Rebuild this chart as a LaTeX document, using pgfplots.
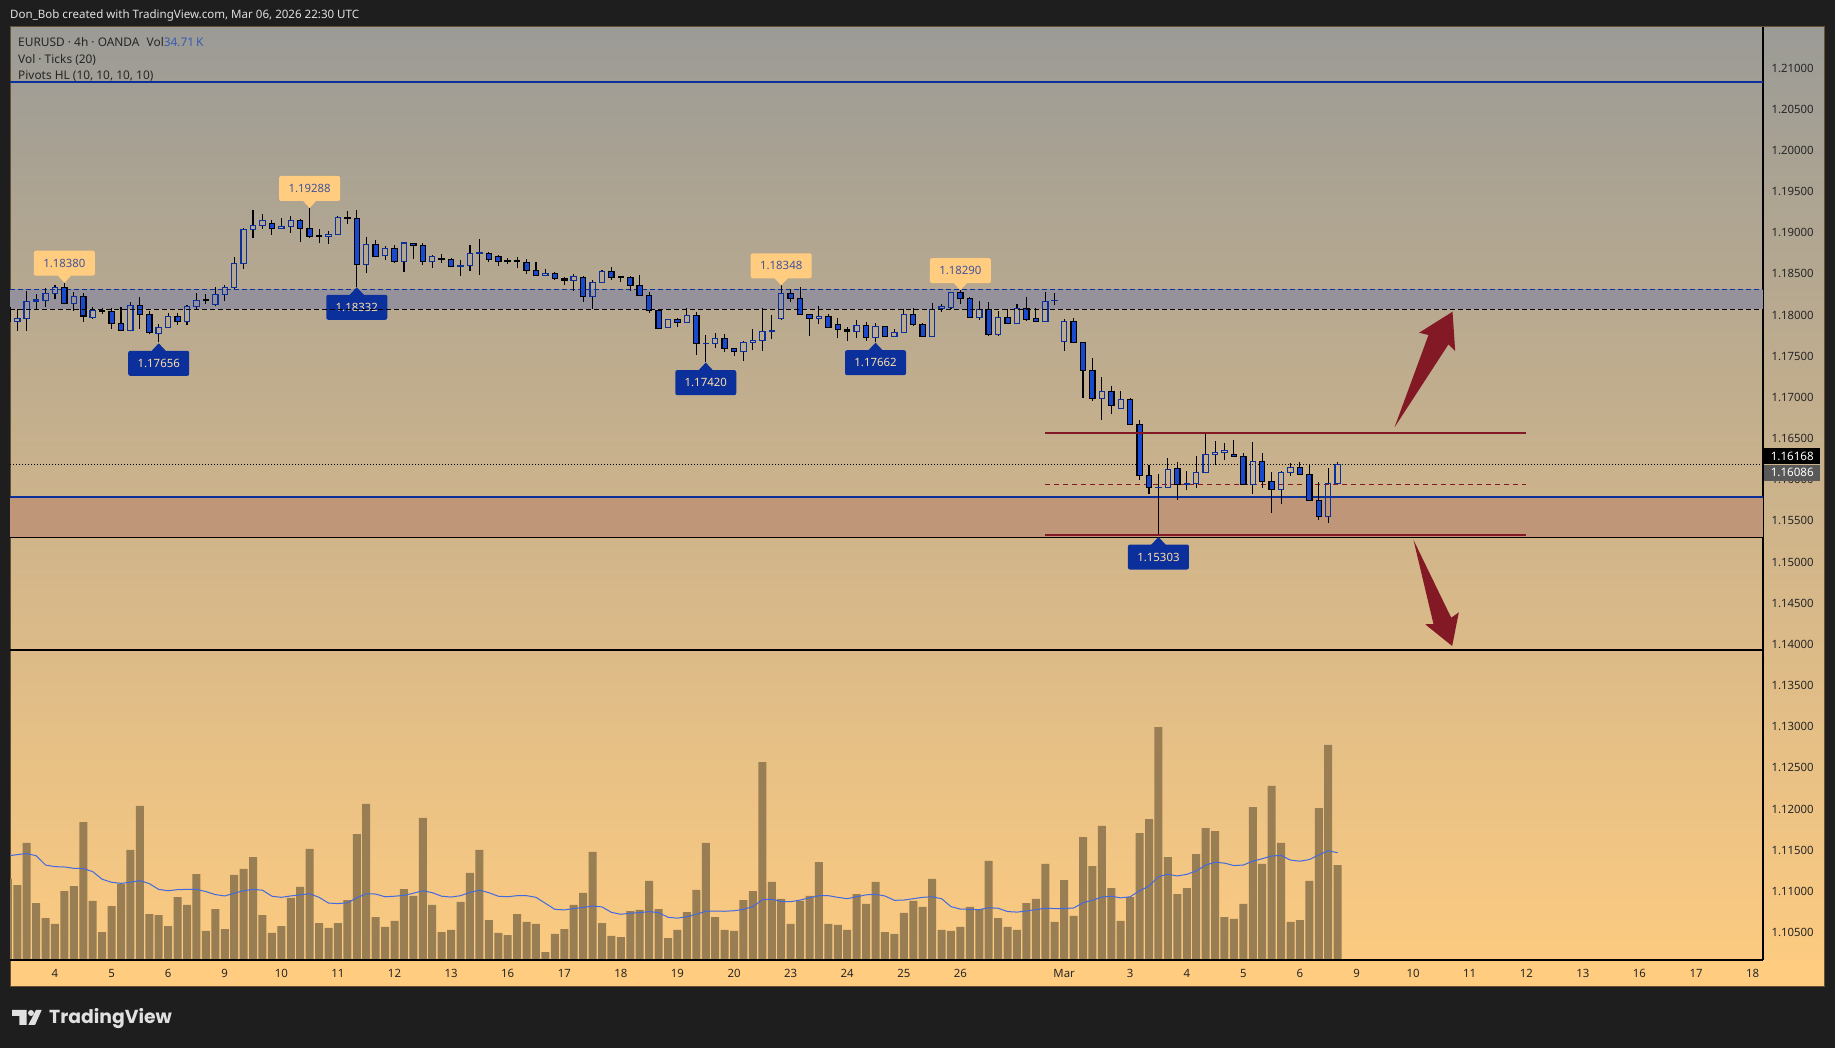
\documentclass[border=0pt]{standalone}
\usepackage{fontspec}
\setmainfont{Noto Sans}
\newfontfamily\logofont{Poppins}
\usepackage{pgfplots}
\usepackage{pgfplotstable}
\pgfplotsset{compat=1.18}
\definecolor{tvdark}{RGB}{30,30,30}
\definecolor{tvorange}{RGB}{255,204,128}
\definecolor{tvtop}{RGB}{155,155,150}
\definecolor{tvnavy}{RGB}{12,48,155}
\definecolor{tvblue}{RGB}{24,73,207}
\definecolor{tvred}{RGB}{130,25,36}
\definecolor{volbar}{RGB}{153,126,84}
\definecolor{maline}{RGB}{65,105,225}
\definecolor{bandtop}{RGB}{150,146,155}
\definecolor{bandlow}{RGB}{191,151,120}
\definecolor{piv}{RGB}{66,84,152}
\definecolor{pivtxt}{RGB}{255,222,165}

% candles: k open high low close
\pgfplotstableread{
k open high low close
0 1.17908 1.18057 1.17798 1.17948
1 1.17948 1.18280 1.17798 1.18155
2 1.18155 1.18244 1.18057 1.18171
3 1.18167 1.18312 1.18082 1.18252
4 1.18252 1.18353 1.18183 1.18320
6 1.18130 1.18264 1.18037 1.18215
8 1.17960 1.18082 1.17944 1.18041
12 1.17802 1.18142 1.17802 1.18106
15 1.17766 1.17875 1.17656 1.17839
16 1.17839 1.18017 1.17839 1.17972
18 1.17912 1.18106 1.17863 1.18094
19 1.18094 1.18256 1.18057 1.18167
21 1.18118 1.18324 1.18094 1.18240
22 1.18240 1.18353 1.18163 1.18320
23 1.18320 1.18693 1.18316 1.18616
24 1.18616 1.19041 1.18547 1.19029
25 1.19029 1.19264 1.18924 1.19077
26 1.19077 1.19215 1.19037 1.19138
28 1.19041 1.19167 1.19037 1.19065
29 1.19065 1.19191 1.18988 1.19138
33 1.18944 1.19009 1.18851 1.18968
34 1.18968 1.19191 1.18968 1.19175
37 1.18604 1.18932 1.18503 1.18847
39 1.18713 1.18826 1.18656 1.18798
41 1.18640 1.18875 1.18511 1.18863
44 1.18636 1.18713 1.18563 1.18701
47 1.18576 1.18656 1.18466 1.18592
48 1.18588 1.18839 1.18527 1.18737
49 1.18737 1.18907 1.18478 1.18741
56 1.18470 1.18547 1.18466 1.18491
59 1.18406 1.18486 1.18284 1.18458
61 1.18211 1.18414 1.18057 1.18385
62 1.18385 1.18531 1.18377 1.18519
69 1.17839 1.17932 1.17835 1.17932
71 1.17899 1.18074 1.17895 1.17985
73 1.17640 1.17746 1.17420 1.17645
74 1.17645 1.17766 1.17592 1.17701
77 1.17547 1.17669 1.17430 1.17657
78 1.17657 1.17819 1.17564 1.17681
79 1.17681 1.18074 1.17551 1.17790
80 1.17786 1.17989 1.17693 1.17802
81 1.17944 1.18348 1.17932 1.18252
85 1.17944 1.18097 1.17879 1.17972
89 1.17790 1.17927 1.17713 1.17863
91 1.17717 1.17887 1.17662 1.17851
93 1.17729 1.17818 1.17725 1.17778
94 1.17778 1.18057 1.17774 1.17996
97 1.17725 1.18130 1.17725 1.18057
98 1.18069 1.18122 1.18029 1.18093
99 1.18077 1.18263 1.18069 1.18263
102 1.17960 1.18158 1.17932 1.18057
104 1.17749 1.18041 1.17733 1.17960
106 1.17887 1.18118 1.17879 1.18069
109 1.17911 1.18268 1.17907 1.18154
110 1.18162 1.18255 1.18110 1.18166
111 1.17664 1.17936 1.17555 1.17911
115 1.16976 1.17235 1.16717 1.17061
117 1.16855 1.17065 1.16855 1.16964
121 1.15891 1.16056 1.15303 1.15895
122 1.15895 1.16248 1.15891 1.16114
124 1.15928 1.16094 1.15863 1.15944
125 1.15944 1.16276 1.15891 1.16078
126 1.16078 1.16543 1.16074 1.16296
127 1.16296 1.16454 1.16163 1.16320
128 1.16320 1.16434 1.16227 1.16345
131 1.15932 1.16446 1.15818 1.16211
134 1.15871 1.16090 1.15697 1.16078
135 1.16078 1.16187 1.16037 1.16138
139 1.15539 1.16126 1.15466 1.15944
140 1.15944 1.16199 1.15932 1.16168
}\upT
\pgfplotstableread{
k open high low close
-1 1.18082 1.18090 1.17900 1.17908
5 1.18324 1.18380 1.18118 1.18130
7 1.18215 1.18252 1.17908 1.17976
9 1.18041 1.18070 1.17997 1.18029
10 1.18033 1.18070 1.17819 1.17887
11 1.17887 1.18082 1.17802 1.17802
13 1.18106 1.18207 1.17819 1.17997
14 1.17997 1.18041 1.17754 1.17778
17 1.17972 1.18017 1.17863 1.17912
20 1.18179 1.18240 1.18122 1.18171
27 1.19098 1.19138 1.18960 1.19041
30 1.19134 1.19150 1.18875 1.19041
31 1.19041 1.19288 1.18928 1.18944
32 1.18948 1.19029 1.18859 1.18940
35 1.19175 1.19252 1.19098 1.19167
36 1.19162 1.19264 1.18332 1.18604
38 1.18843 1.18895 1.18689 1.18701
40 1.18798 1.18839 1.18624 1.18640
42 1.18859 1.18867 1.18669 1.18831
43 1.18835 1.18859 1.18600 1.18640
45 1.18669 1.18725 1.18620 1.18661
46 1.18665 1.18685 1.18576 1.18580
50 1.18737 1.18750 1.18636 1.18665
51 1.18701 1.18717 1.18588 1.18636
52 1.18648 1.18685 1.18608 1.18640
53 1.18644 1.18693 1.18563 1.18636
54 1.18628 1.18669 1.18491 1.18531
55 1.18531 1.18632 1.18466 1.18466
57 1.18495 1.18507 1.18410 1.18434
58 1.18434 1.18454 1.18357 1.18414
60 1.18446 1.18466 1.18150 1.18215
63 1.18519 1.18571 1.18418 1.18446
64 1.18458 1.18462 1.18389 1.18450
65 1.18442 1.18458 1.18284 1.18349
66 1.18349 1.18474 1.18223 1.18227
67 1.18227 1.18268 1.18017 1.18045
68 1.18045 1.18057 1.17823 1.17827
70 1.17932 1.17952 1.17847 1.17899
72 1.17985 1.18025 1.17503 1.17645
75 1.17701 1.17754 1.17543 1.17584
76 1.17580 1.17588 1.17495 1.17547
82 1.18252 1.18300 1.18146 1.18191
83 1.18187 1.18324 1.17992 1.17996
84 1.17996 1.18004 1.17733 1.17944
86 1.17972 1.17996 1.17830 1.17838
87 1.17875 1.17948 1.17713 1.17814
88 1.17806 1.17838 1.17672 1.17794
90 1.17863 1.17903 1.17676 1.17717
92 1.17847 1.17855 1.17725 1.17729
95 1.17996 1.18069 1.17855 1.17875
96 1.17875 1.17887 1.17721 1.17729
100 1.18263 1.18290 1.18122 1.18191
101 1.18187 1.18211 1.17956 1.17960
103 1.18057 1.18142 1.17741 1.17749
105 1.17960 1.18057 1.17887 1.17887
107 1.18069 1.18207 1.17919 1.17936
108 1.17944 1.18069 1.17903 1.17911
112 1.17911 1.17948 1.17652 1.17656
113 1.17656 1.17656 1.16984 1.17316
114 1.17316 1.17466 1.16948 1.16976
116 1.17061 1.17126 1.16790 1.16891
118 1.16964 1.16976 1.16660 1.16660
119 1.16660 1.16713 1.15984 1.16041
120 1.16041 1.16167 1.15814 1.15895
123 1.16126 1.16199 1.15746 1.15932
129 1.16296 1.16470 1.16268 1.16272
130 1.16272 1.16308 1.15928 1.15932
132 1.16211 1.16308 1.15891 1.15968
133 1.15968 1.16078 1.15588 1.15871
136 1.16138 1.16203 1.16049 1.16053
137 1.16053 1.16175 1.15725 1.15738
138 1.15738 1.15956 1.15503 1.15543
}\dnT
% volume (thousand ticks) and its 20-bar average
\pgfplotstableread{
k vol ma
-1 29.6 38.0
0 27.4 38.5
1 42.8 38.9
2 20.8 38.1
3 15.3 34.7
4 13.2 34.1
5 25.2 34.0
6 27.0 33.5
7 50.4 33.4
8 21.6 32.3
9 10.2 29.5
10 19.7 28.4
11 27.8 28.0
12 40.2 28.4
13 56.3 29.0
14 16.8 27.9
15 16.4 25.8
16 12.4 25.3
17 23.0 25.7
18 20.1 25.8
19 31.4 25.8
20 10.6 25.0
21 18.6 23.9
22 11.3 23.4
23 31.1 24.4
24 33.3 25.3
25 37.6 25.8
26 16.4 25.5
27 9.9 23.3
28 12.4 22.9
29 22.7 23.4
30 26.7 23.8
31 40.6 24.2
32 13.5 22.9
33 11.7 20.8
34 13.5 20.6
35 21.9 20.9
36 46.0 22.7
37 57.0 24.2
38 15.7 24.1
39 12.1 23.1
40 14.3 23.3
41 25.9 23.6
42 23.4 24.4
43 51.9 25.3
44 20.1 24.6
45 10.2 23.3
46 11.0 23.0
47 21.2 23.5
48 31.8 24.7
49 40.2 25.5
50 14.6 24.6
51 9.9 23.3
52 9.1 23.1
53 16.8 23.5
54 13.9 23.5
55 13.2 22.9
56 2.9 20.7
57 9.5 18.5
58 11.3 18.3
59 20.1 18.8
60 24.5 19.2
61 39.5 19.7
62 13.5 19.4
63 8.8 17.4
64 8.4 16.7
65 17.9 17.1
66 18.3 17.3
67 28.9 17.7
68 18.6 17.3
69 8.0 15.6
70 11.0 15.3
71 17.5 15.8
72 25.6 16.7
73 42.8 17.8
74 15.7 17.9
75 11.0 17.8
76 10.6 18.0
77 21.9 18.5
78 25.2 19.5
79 72.3 22.0
80 28.5 22.2
81 22.3 21.4
82 13.2 21.3
83 21.6 21.9
84 23.4 22.7
85 35.8 23.5
86 13.2 23.5
87 12.8 22.9
88 11.0 22.4
89 24.1 23.1
90 20.5 23.8
91 28.5 24.0
92 10.2 23.4
93 9.5 21.8
94 17.2 21.9
95 21.6 22.4
96 19.4 22.9
97 29.6 23.1
98 11.0 22.4
99 10.6 19.5
100 12.1 18.6
101 19.4 18.5
102 18.6 18.4
103 36.2 19.1
104 15.3 18.9
105 12.1 17.7
106 11.0 17.5
107 20.8 17.9
108 22.3 18.4
109 35.1 18.9
110 13.9 18.8
111 29.2 18.8
112 16.1 19.0
113 44.9 20.9
114 34.3 21.8
115 49.0 23.0
116 26.3 23.3
117 14.3 22.7
118 23.0 23.1
119 46.4 25.3
120 51.5 27.0
121 85.1 30.5
122 37.6 31.3
123 24.1 30.7
124 26.3 31.3
125 38.7 32.5
126 48.2 34.7
127 47.1 35.7
128 15.7 35.4
129 15.0 34.5
130 20.5 34.7
131 55.9 36.1
132 35.1 37.0
133 63.6 38.0
134 42.8 38.2
135 13.9 36.5
136 14.6 36.1
137 28.9 36.7
138 55.5 38.4
139 78.6 39.9
140 34.7 39.2
}\volT

% one candle per row: body as a closed rectangle, wicks as two segments
\newcommand\candles[4]{%
  \pgfplotstablegetrowsof{#1}%
  \pgfmathtruncatemacro\nrows{\pgfplotsretval-1}%
  \pgfplotsforeachungrouped \i in {0,...,\nrows}{%
    \pgfplotstablegetelem{\i}{k}\of{#1}\let\vk\pgfplotsretval
    \pgfplotstablegetelem{\i}{high}\of{#1}\let\vh\pgfplotsretval
    \pgfplotstablegetelem{\i}{low}\of{#1}\let\vl\pgfplotsretval
    \pgfplotstablegetelem{\i}{#3}\of{#1}\let\vlo\pgfplotsretval
    \pgfplotstablegetelem{\i}{#4}\of{#1}\let\vhi\pgfplotsretval
    \pgfmathsetmacro\xa{\vk-0.28}%
    \pgfmathsetmacro\xb{\vk+0.28}%
    \edef\tmp{\noexpand\addplot[black,line width=1.1pt] coordinates {(\vk,\vl)(\vk,\vlo)};
      \noexpand\addplot[black,line width=1.1pt] coordinates {(\vk,\vhi)(\vk,\vh)};
      \noexpand\addplot[#2,line width=1.2pt] coordinates {(\xa,\vlo)(\xb,\vlo)(\xb,\vhi)(\xa,\vhi)} --cycle;}\tmp
  }}
\newcommand\pivH[3]{%
  \fill[tvorange] (axis cs:#1,#2) -- ++(-7pt,7.5pt) -- ++(14pt,0pt) -- cycle;
  \node[fill=tvorange,rounded corners=2pt,minimum width=61pt,minimum height=25pt,inner sep=0pt,text=piv,font=\fontsize{11.4pt}{13pt}\selectfont,yshift=19.5pt] at (axis cs:#1,#2) {#3};}
\newcommand\pivL[3]{%
  \fill[tvnavy] (axis cs:#1,#2) -- ++(-7.5pt,-8pt) -- ++(15pt,0pt) -- cycle;
  \node[fill=tvnavy,rounded corners=2pt,minimum width=61pt,minimum height=25pt,inner sep=0pt,text=pivtxt,font=\fontsize{11.4pt}{13pt}\selectfont,yshift=-20pt] at (axis cs:#1,#2) {#3};}

\begin{document}
\begin{tikzpicture}[x=1pt,y=1pt]
\useasboundingbox (0,0) rectangle (1835,1048);
\fill[tvdark] (0,0) rectangle (1835,1048);
\shade[top color=tvtop,bottom color=tvorange] (10,61) rectangle (1824,1021);
\fill[tvorange] (10,61) rectangle (1824,88);
\draw[black!60!tvorange,line width=1pt] (10,61) rectangle (1824,1021);

% volume pane
\begin{axis}[at={(10pt,88pt)},anchor=south west,scale only axis,width=1753pt,height=933pt,
  xmin=-0.77,xmax=185.1,ymin=0,ymax=340.9,hide axis,clip=true]
\addplot[ybar,bar width=8pt,bar shift=0pt,fill=volbar,draw=none] table[x=k,y=vol] {\volT};
\addplot[sharp plot,color=maline,line width=1pt] table[x=k,y=ma] {\volT};
\end{axis}

% price pane
\begin{axis}[at={(10pt,88pt)},anchor=south west,scale only axis,width=1753pt,height=933pt,
  xmin=-0.77,xmax=185.1,ymin=1.10155,ymax=1.21486,
  axis x line*=bottom,axis y line*=right,
  axis line style={black,line width=1.2pt,-},
  major tick length=0pt,
  xtick={4,10,16,22,28,34,40,46,52,58,64,70,76,82,88,94,100,111,118,124,130,136,142,148,154,160,166,172,178,184},
  xticklabels={4,5,6,9,10,11,12,13,16,17,18,19,20,23,24,25,26,\textbf{Mar},3,4,5,6,9,10,11,12,13,16,17,18},
  ytick={1.105,1.11,1.115,1.12,1.125,1.13,1.135,1.14,1.145,1.15,1.155,1.16,1.165,1.17,1.175,1.18,1.185,1.19,1.195,1.2,1.205,1.21},
  yticklabels={1.10500,1.11000,1.11500,1.12000,1.12500,1.13000,1.13500,1.14000,1.14500,1.15000,1.15500,1.16000,1.16500,1.17000,1.17500,1.18000,1.18500,1.19000,1.19500,1.20000,1.20500,1.21000},
  tick label style={font=\fontsize{11.4pt}{13pt}\selectfont,text=black!85},
  yticklabel style={xshift=5pt,yshift=-1pt},
  xticklabel style={yshift=-5.5pt},
]
% zones
\addplot[fill=bandtop,draw=none] coordinates {(-0.77,1.18057)(185.1,1.18057)(185.1,1.18300)(-0.77,1.18300)} --cycle;
\addplot[fill=bandlow,draw=none] coordinates {(-0.77,1.15295)(185.1,1.15295)(185.1,1.15778)(-0.77,1.15778)} --cycle;
% horizontal levels
\addplot[tvnavy,line width=1.8pt] coordinates {(-0.77,1.20821)(185.1,1.20821)};
\addplot[tvnavy,line width=1.8pt] coordinates {(-0.77,1.15778)(185.1,1.15778)};
\addplot[black,line width=1.2pt] coordinates {(-0.77,1.15288)(185.1,1.15288)};
\addplot[black,line width=1.1pt] coordinates {(-0.77,1.13920)(185.1,1.13920)};
\addplot[tvnavy,line width=1pt,dash pattern=on 5pt off 3pt] coordinates {(-0.77,1.18300)(185.1,1.18300)};
\addplot[black,line width=1pt,dash pattern=on 1pt off 2pt] coordinates {(-0.77,1.16168)(185.1,1.16168)};
% range
\addplot[tvred,line width=1pt,dash pattern=on 5pt off 4pt] coordinates {(109,1.15932)(160,1.15932)};
% candles
\candles{\upT}{draw=tvnavy,fill=none}{open}{close}
\candles{\dnT}{draw=black,fill=tvblue}{close}{open}
\addplot[tvred,line width=1.8pt] coordinates {(109,1.16555)(160,1.16555)};
\addplot[tvred,line width=1.8pt] coordinates {(109,1.15318)(160,1.15318)};
% arrows
\addplot[fill=tvred,draw=none] coordinates {(146.03,1.16624)(149.63,1.17745)(148.64,1.17773)(152.18,1.18028)(152.46,1.17551)(151.75,1.17632)} --cycle;
\addplot[fill=tvred,draw=none] coordinates {(148.04,1.15256)(152.04,1.14312)(152.85,1.14377)(152.14,1.13968)(149.28,1.14232)(150.16,1.14235)} --cycle;
% pivots
\pivH{5}{1.18380}{1.18380}
\pivH{31}{1.19288}{1.19288}
\pivH{81}{1.18348}{1.18348}
\pivH{100}{1.18290}{1.18290}
\pivL{15}{1.17644}{1.17656}
\pivL{36}{1.18325}{1.18332}
\pivL{73}{1.17410}{1.17420}
\pivL{91}{1.17652}{1.17662}
\pivL{121}{1.15292}{1.15303}
\addplot[black,line width=1pt,dash pattern=on 5pt off 3pt] coordinates {(-0.77,1.18057)(185.1,1.18057)};
\end{axis}

% price tags
\node[fill=black,text=white,anchor=west,minimum width=56pt,minimum height=16pt,inner sep=0pt,font=\fontsize{11.6pt}{13pt}\selectfont] at (1764,591.8) {1.16168};
\node[fill=black!65,text=white,anchor=west,minimum width=56pt,minimum height=16pt,inner sep=0pt,font=\fontsize{11.6pt}{13pt}\selectfont] at (1764,575.2) {1.16086};
% header and legend
\node[anchor=west,inner sep=0pt,text=black!12,font=\fontsize{11.55pt}{13pt}\selectfont] at (10,1032) {Don\_Bob created with TradingView.com, Mar 06, 2026 22:30 UTC};
\node[anchor=west,inner sep=0pt,text=black!85,font=\fontsize{11.9pt}{13pt}\selectfont] at (18,1005.5) {EURUSD · 4h · OANDA\hspace{0.6em}Vol\textcolor{tvnavy!80}{34.71\,K}};
\node[anchor=west,inner sep=0pt,text=black!85,font=\fontsize{11.9pt}{13pt}\selectfont] at (18,988) {Vol · Ticks (20)};
\node[anchor=west,inner sep=0pt,text=black!85,font=\fontsize{11.9pt}{13pt}\selectfont] at (18,972) {Pivots HL (10, 10, 10, 10)};
% logo
\fill[black!12] (12,38) -- (26.7,38) -- (26.7,23) -- (19.3,23) -- (19.3,32) -- (12,32) -- cycle;
\fill[black!12] (31,35) circle (3);
\fill[black!12] (36,38) -- (41.7,38) -- (35,23) -- (28.3,23) -- cycle;
\node[anchor=west,inner sep=0pt,text=black!12,font=\logofont\bfseries\fontsize{18.8pt}{22pt}\selectfont] at (49,29) {TradingView};
\end{tikzpicture}
\end{document}
